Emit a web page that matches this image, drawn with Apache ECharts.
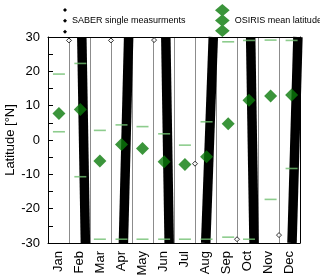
<!DOCTYPE html>
<html>
<head>
<meta charset="utf-8">
<script src="https://cdn.jsdelivr.net/npm/echarts@6/dist/echarts.min.js"></script>
<style>
html,body{margin:0;padding:0;background:#fff;}
#c{width:320px;height:279px;}
</style>
</head>
<body>
<div id="c"></div>
<script>
// ---- data ----
var months = ['Jan','Feb','Mar','Apr','May','Jun','Jul','Aug','Sep','Oct','Nov','Dec'];
var yTicks = [-30,-20,-10,0,10,20,30];
// OSIRIS monthly values (x in months from Jan 1)
var osirisX     = [0.52,1.54,2.47,3.5,4.5,5.53,6.52,7.55,8.58,9.57,10.6,11.6];
var osirisMean  = [7.7,8.9,-6.1,-1.3,-2.5,-6.3,-7.1,-4.9,4.7,11.6,12.8,13.1];
var osirisUpper = [19.2,22.3,2.8,4.4,3.9,1.8,-1.5,5.3,28.6,29.0,29.1,29.0];
var osirisLower = [2.4,-10.7,-28.9,-28.9,-28.9,-28.9,-28.9,-28.9,-28.3,-28.9,-17.3,-8.3];
// SABER measurement swaths: x (months) at top (30N) and bottom (30S)
var bandLat    = [30,-30];
var bandTopX   = [1.61,3.84,5.61,7.87,9.65,11.9];
var bandBotX   = [1.78,3.59,5.77,7.51,9.81,11.62];
// isolated SABER points
var saberOddX  = [1.0,3.0,5.05,7.0,9.0,11.0];
var saberOddY  = [29.0,29.0,29.1,-6.9,-28.9,-27.7];

var FONT = "'Liberation Sans', Arial, Helvetica, sans-serif";
var SABER = 'SABER single measurments';
var OSIRIS = 'OSIRIS mean latitude';

function zip(xs, ys){ return xs.map(function(x,i){ return [x, ys[i]]; }); }

var series = [];
bandTopX.forEach(function(tx, i){
  series.push({
    name: SABER, type: 'line', xAxisIndex: 0, yAxisIndex: 0,
    data: [[tx, bandLat[0]], [bandBotX[i], bandLat[1]]],
    symbol: 'none', silent: true, z: 2,
    lineStyle: {color: '#000', width: 9.5, cap: 'butt'},
    itemStyle: {color: '#000'}
  });
});
series.push({
  name: 'odd', type: 'scatter', data: zip(saberOddX, saberOddY),
  symbol: 'diamond', symbolSize: 5, z: 4,
  itemStyle: {color: '#fff', borderColor: '#000', borderWidth: 1}
});
series.push({
  name: 'upper', type: 'scatter', data: zip(osirisX, osirisUpper),
  symbol: 'rect', symbolSize: [12, 1.6], z: 3,
  itemStyle: {color: '#70bf70'}
});
series.push({
  name: 'lower', type: 'scatter', data: zip(osirisX, osirisLower),
  symbol: 'rect', symbolSize: [12, 1.6], z: 3,
  itemStyle: {color: '#70bf70'}
});
series.push({
  name: OSIRIS, type: 'scatter', data: zip(osirisX, osirisMean),
  symbol: 'diamond', symbolSize: [13, 13], z: 5,
  itemStyle: {color: '#0a7a0a'}
});

var saberIcon = 'path://M2,0L4,2L2,4L0,2ZM2,10.7L4,12.7L2,14.7L0,12.7ZM2,21.7L4,23.7L2,25.7L0,23.7Z';
var osirisIcon = 'path://M7.5,0L15,6.35L7.5,12.7L0,6.35ZM7.5,10.5L15,16.85L7.5,23.2L0,16.85ZM7.5,21L15,27.35L7.5,33.7L0,27.35Z';

var chart = echarts.init(document.getElementById('c'), null, {renderer: 'canvas'});
chart.setOption({
  animation: false,
  backgroundColor: '#fff',
  textStyle: {fontFamily: FONT},
  grid: {left: 48, top: 37, right: 20, bottom: 36, containLabel: false, outerBoundsMode: 'none'},
  legend: [
    {left: 63, top: 8, padding: 0, itemWidth: 4, itemHeight: 26, itemGap: 5,
     textStyle: {fontSize: 9, color: '#000', fontFamily: FONT},
     data: [{name: SABER, icon: saberIcon, itemStyle: {color: '#000', borderWidth: 0}}]},
    {left: 215, top: 4, padding: 0, itemWidth: 15, itemHeight: 33,
     textStyle: {fontSize: 9, color: '#000', fontFamily: FONT},
     data: [{name: OSIRIS, icon: osirisIcon, itemStyle: {color: '#0a7a0a', borderWidth: 0}}]}
  ],
  xAxis: [
    {type: 'value', min: 0, max: 12, interval: 1, position: 'bottom',
     axisLine: {show: true, onZero: false, lineStyle: {color: '#000', width: 1}},
     axisTick: {show: false}, axisLabel: {show: false},
     splitLine: {show: true, lineStyle: {color: '#8c8c8c', width: 1}}},
    {type: 'category', data: months, position: 'bottom', boundaryGap: true,
     axisLine: {show: false, onZero: false}, axisTick: {show: false}, splitLine: {show: false},
     axisLabel: {rotate: 90, margin: 8, fontSize: 13, color: '#000', fontFamily: FONT}},
    {type: 'value', min: 0, max: 12, position: 'top',
     axisLine: {show: true, onZero: false, lineStyle: {color: '#000', width: 1}},
     axisTick: {show: false}, axisLabel: {show: false}, splitLine: {show: false}}
  ],
  yAxis: [
    {type: 'value', min: -30, max: 30, interval: 5, position: 'left',
     name: 'Latitude [°N]', nameLocation: 'middle', nameGap: 31, nameRotate: 90,
     nameMoveOverlap: false,
     nameTextStyle: {fontSize: 13, color: '#000', fontFamily: FONT},
     axisLine: {show: true, onZero: false, lineStyle: {color: '#000', width: 1}},
     axisTick: {show: true, inside: true, length: 5, lineStyle: {color: '#000'}},
     axisLabel: {margin: 8, fontSize: 13, color: '#000', fontFamily: FONT,
       formatter: function(v){ return yTicks.indexOf(v) >= 0 ? String(v) : ''; }},
     splitLine: {show: false}},
    {type: 'value', min: -30, max: 30, position: 'right',
     axisLine: {show: true, onZero: false, lineStyle: {color: '#000', width: 1}},
     axisTick: {show: false}, axisLabel: {show: false}, splitLine: {show: false}}
  ],
  series: series
});
</script>
</body>
</html>
